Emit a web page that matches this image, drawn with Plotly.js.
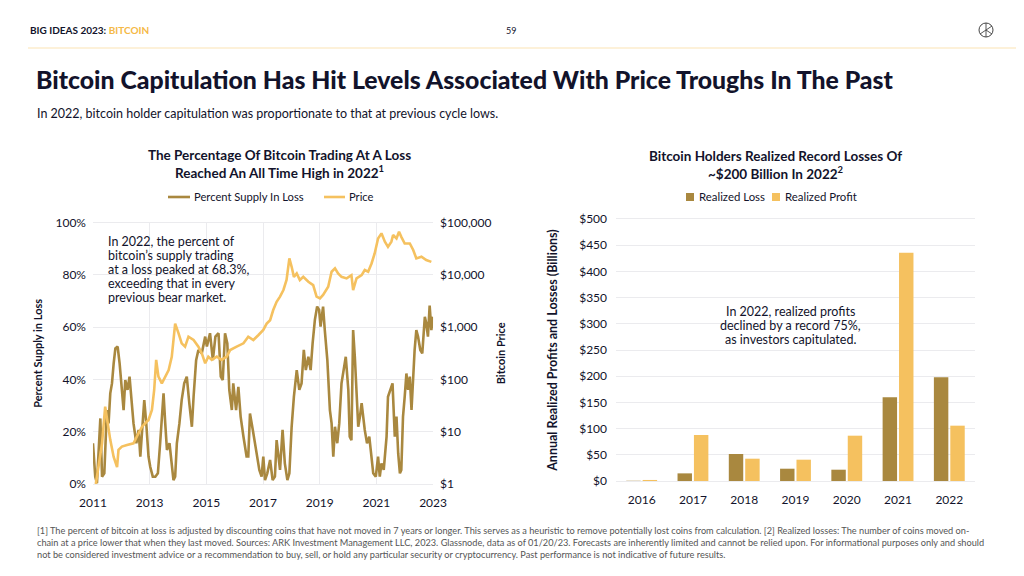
<!DOCTYPE html>
<html>
<head>
<meta charset="utf-8">
<script src="https://cdn.plot.ly/plotly-3.0.1.min.js"></script>
<style>
html,body{margin:0;padding:0;background:#fff;}
#chart{width:1024px;height:576px;}
</style>
</head>
<body>
<div id="chart"></div>
<script>
// ---------- Left chart: percent supply in loss (decimal year, %) ----------
const lossYears = [2011.00,2011.08,2011.14,2011.26,2011.32,2011.40,2011.49,2011.55,2011.61,2011.67,2011.73,2011.79,2011.87,2011.94,
2012.02,2012.08,2012.14,2012.22,2012.29,2012.37,2012.43,2012.53,2012.61,2012.67,2012.75,2012.81,2012.88,2012.96,
2013.02,2013.11,2013.20,2013.29,2013.37,2013.49,2013.55,2013.61,2013.70,2013.78,2013.84,2013.90,2013.96,
2014.05,2014.13,2014.22,2014.31,2014.40,2014.49,2014.55,2014.64,2014.72,2014.84,2014.96,
2015.02,2015.13,2015.23,2015.32,2015.43,2015.51,2015.58,2015.66,2015.74,2015.81,2015.90,2015.95,
2016.05,2016.13,2016.21,2016.31,2016.42,2016.48,2016.54,2016.64,2016.72,2016.80,2016.87,2016.95,
2017.01,2017.07,2017.15,2017.25,2017.34,2017.42,2017.48,2017.60,2017.69,2017.77,2017.86,2017.93,
2018.01,2018.09,2018.19,2018.28,2018.36,2018.44,2018.51,2018.60,2018.68,2018.75,2018.83,2018.91,2018.98,
2019.03,2019.12,2019.18,2019.27,2019.36,2019.42,2019.48,2019.54,2019.62,2019.69,2019.77,2019.85,2019.92,
2020.01,2020.06,2020.12,2020.18,2020.24,2020.30,2020.36,2020.42,2020.48,2020.59,2020.67,2020.75,2020.83,2020.89,2020.98,
2021.06,2021.12,2021.18,2021.26,2021.36,2021.41,2021.50,2021.57,2021.65,2021.71,2021.77,2021.83,2021.88,2021.94,
2022.00,2022.06,2022.12,2022.18,2022.24,2022.30,2022.35,2022.41,2022.47,2022.55,2022.62,2022.71,2022.76,2022.82,2022.88,2022.94,2023.00];
const lossPct = [15.6,2.8,0.3,25.1,2.8,4.1,28.3,23.2,34.7,38.5,46.2,51.9,52.6,46.2,
36.0,28.3,39.8,36.0,41.1,30.9,23.2,15.6,20.7,10.5,23.2,32.1,23.2,10.5,
6.6,2.8,2.8,4.1,15.6,34.7,23.2,13.0,15.6,7.9,1.5,2.8,15.6,
23.2,32.1,38.5,41.1,30.9,21.9,33.4,47.4,51.3,50.0,56.4,
52.6,57.7,47.4,56.4,57.7,41.1,39.8,57.7,53.8,36.0,28.3,38.5,
28.3,37.2,25.8,18.1,10.5,10.5,27.0,20.7,15.6,10.5,5.4,2.8,
10.5,1.5,4.1,9.2,1.5,2.8,16.8,5.4,20.7,7.9,1.5,4.1,
21.9,33.4,43.6,36.0,38.5,51.3,43.6,48.7,43.6,53.8,62.8,67.9,66.6,
60.2,67.9,58.9,47.4,28.3,23.2,10.5,21.9,15.6,23.2,38.5,43.6,48.7,
36.0,18.1,16.8,58.9,48.7,32.1,21.9,25.8,30.9,20.7,15.6,18.1,9.2,4.1,2.8,
10.5,2.8,7.9,5.4,18.1,33.4,36.0,38.5,18.1,25.8,11.7,4.1,5.4,25.8,
33.4,42.3,36.0,41.1,28.3,41.1,51.3,58.9,56.4,51.3,50.0,64.0,61.5,56.4,68.3,58.9,64.0];

// ---------- Left chart: bitcoin price (decimal year, USD) ----------
const priceYears = [2011.10,2011.32,2011.43,2011.52,2011.61,2011.73,2011.85,2011.90,
2012.02,2012.20,2012.43,2012.55,2012.73,2012.84,2012.96,
2013.08,2013.16,2013.23,2013.31,2013.43,2013.55,2013.67,2013.78,2013.90,
2014.02,2014.13,2014.25,2014.37,2014.55,2014.72,2014.84,2014.96,
2015.07,2015.19,2015.37,2015.54,2015.72,2015.84,
2016.07,2016.31,2016.48,2016.66,2016.84,
2017.01,2017.13,2017.25,2017.36,2017.48,2017.60,2017.72,2017.83,2017.93,
2018.01,2018.09,2018.19,2018.30,2018.42,2018.60,2018.77,2018.89,
2019.01,2019.12,2019.30,2019.42,2019.54,2019.65,2019.77,2019.95,
2020.12,2020.18,2020.30,2020.48,2020.59,2020.71,2020.83,2020.94,
2021.06,2021.18,2021.30,2021.41,2021.53,2021.59,2021.71,2021.80,2021.88,
2022.00,2022.18,2022.30,2022.41,2022.59,2022.76,2022.94];
const priceUsd = [1.0,6.0,30.2,14.5,7.0,3.3,2.1,4.5,
5.2,5.6,6.0,8.1,12.5,14.5,16.8,
26.1,63,237,113,84,113,152,272,1170,
763,492,425,660,570,425,317,204,
274,237,274,237,274,366,
425,492,660,570,710,
890,1170,1360,2130,3070,3850,5150,8000,20700,
14300,9200,10700,8000,9200,7400,6400,3850,
3560,4140,5950,11500,13400,10700,9200,8600,
9900,5150,8600,9900,12400,11500,16600,25800,
50000,62500,43400,34500,43400,58000,50000,67000,53600,
40000,40000,30000,20700,22300,19300,17800];

const lossTicks = [0,20,40,60,80,100];
const lossTickText = ["0%","20%","40%","60%","80%","100%"];
const priceTicks = [1,10,100,1000,10000,100000];
const priceTickText = ["$1","$10","$100","$1,000","$10,000","$100,000"];
const yearTicks = [2011,2013,2015,2017,2019,2021,2023];

// ---------- Right chart: realized profit / loss ($ billions) ----------
const barYears = ["2016","2017","2018","2019","2020","2021","2022"];
const realizedLoss = [0.5,14.6,51.5,23.5,21.6,159.7,197.8];
const realizedProfit = [2,87.8,42.6,40.7,86.5,435.8,105.6];
const barTicks = [0,50,100,150,200,250,300,350,400,450,500];
const barTickText = barTicks.map(v => "$" + v);

const seriesNames = ["Percent Supply In Loss", "Price", "Realized Loss", "Realized Profit"];
const noteLeft = ["In 2022, the percent of", "bitcoin’s supply trading", "at a loss peaked at 68.3%,", "exceeding that in every", "previous bear market."];
const noteRight = ["In 2022, realized profits", "declined by a record 75%,", "as investors capitulated."];

const DARK = "#a9883f";
const LIGHT = "#f5c15f";
const INK = "#12132b";
const GRID = "#ebebee";
const FONT = "Lato, 'Open Sans', sans-serif";

const traces = [
  {x: lossYears, y: lossPct, type: "scatter", mode: "lines", name: seriesNames[0],
   line: {color: DARK, width: 2.6}, xaxis: "x", yaxis: "y", showlegend: false},
  {x: priceYears, y: priceUsd, type: "scatter", mode: "lines", name: seriesNames[1],
   line: {color: LIGHT, width: 2.6}, xaxis: "x", yaxis: "y2", showlegend: false},
  {x: barYears, y: realizedLoss, type: "bar", name: seriesNames[2],
   marker: {color: DARK}, xaxis: "x2", yaxis: "y3", showlegend: false},
  {x: barYears, y: realizedProfit, type: "bar", name: seriesNames[3],
   marker: {color: LIGHT}, xaxis: "x2", yaxis: "y3", showlegend: false}
];

const tickFont = {family: FONT, size: 12, color: INK};
const axTitleFont = {family: FONT, size: 11, color: INK, weight: 700};
const px = v => v / 1024;
const py = v => 1 - v / 576;

function txt(x, y, text, size, opts) {
  return Object.assign({xref: "paper", yref: "paper", x: px(x), y: py(y), xanchor: "left", yanchor: "middle",
    showarrow: false, text: text, font: {family: FONT, size: size, color: INK}}, opts || {});
}

const annotations = [
  txt(28, 30, "<b>BIG IDEAS 2023: <span style='color:#f5b946'>BITCOIN</span></b>", 10),
  txt(511, 31, "59", 9, {xanchor: "center"}),
  txt(34, 80, "Bitcoin Capitulation Has Hit Levels Associated With Price Troughs In The Past", 24.8,
      {font: {family: FONT, size: 24.8, color: INK, weight: 900}}),
  txt(35, 114, "In 2022, bitcoin holder capitulation was proportionate to that at previous cycle lows.", 12.5),
  txt(279, 164, "<b>The Percentage Of Bitcoin Trading At A Loss<br>Reached An All Time High in 2022<sup>1</sup></b>", 13.5,
      {xanchor: "center", align: "center"}),
  txt(775, 165, "<b>Bitcoin Holders Realized Record Losses Of<br>~$200 Billion In 2022<sup>2</sup></b>", 13.5,
      {xanchor: "center", align: "center"}),
  // legends
  txt(192, 197, seriesNames[0], 11.2),
  txt(347, 197, seriesNames[1], 11.2),
  txt(697, 197, seriesNames[2], 11.4),
  txt(783, 197, seriesNames[3], 11.4),
  txt(35, 542, "[1] The percent of bitcoin at loss is adjusted by discounting coins that have not moved in 7 years or longer. This serves as a heuristic to remove potentially lost coins from calculation. [2] Realized losses: The number of coins moved on-<br>chain at a price lower that when they last moved. Sources: ARK Investment Management LLC, 2023. Glassnode, data as of 01/20/23. Forecasts are inherently limited and cannot be relied upon. For informational purposes only and should<br>not be considered investment advice or a recommendation to buy, sell, or hold any particular security or cryptocurrency. Past performance is not indicative of future results.",
      9.2, {align: "left", font: {family: FONT, size: 9.2, color: "#555"}})
];
noteLeft.forEach((line, i) => annotations.push(txt(106, 241 + i * 14.2, line, 12.5)));
noteRight.forEach((line, i) => annotations.push(txt(790, 311 + i * 14.2, line, 12.5, {xanchor: "center"})));

const layout = {
  width: 1024, height: 576,
  margin: {l: 0, r: 0, t: 0, b: 0},
  paper_bgcolor: "#fff", plot_bgcolor: "#fff",
  font: {family: FONT, color: INK},
  showlegend: false,
  barmode: "group", bargap: 0.36, bargroupgap: 0.12,
  xaxis: {domain: [0.0908, 0.4229], range: [2011, 2023], tickvals: yearTicks, ticktext: yearTicks.map(String),
    showgrid: true, gridcolor: GRID, zeroline: false, showline: true, linecolor: GRID, mirror: true,
    tickfont: tickFont, ticks: "", ticklabelstandoff: 8, anchor: "y"},
  yaxis: {domain: [0.1597, 0.6134], range: [0, 100], tickvals: lossTicks, ticktext: lossTickText,
    showgrid: true, gridcolor: GRID, zeroline: false, tickfont: tickFont, ticklabelstandoff: 6,
    title: {text: "Percent Supply in Loss", font: axTitleFont, standoff: 10}, anchor: "x"},
  yaxis2: {type: "log", range: [0, 5], tickvals: priceTicks, ticktext: priceTickText, overlaying: "y",
    side: "right", anchor: "x", showgrid: false, zeroline: false, tickfont: tickFont, ticklabelstandoff: 6,
    title: {text: "Bitcoin Price", font: axTitleFont, standoff: 6}},
  xaxis2: {domain: [0.6016, 0.9521], anchor: "y3", type: "category", tickvals: barYears, ticktext: barYears,
    showgrid: false, zeroline: false, showline: true, linecolor: GRID, mirror: true, tickfont: tickFont,
    ticks: "", ticklabelstandoff: 8},
  yaxis3: {domain: [0.1649, 0.6198], anchor: "x2", range: [0, 500], tickvals: barTicks, ticktext: barTickText,
    showgrid: true, gridcolor: GRID, zeroline: false, tickfont: tickFont, ticklabelstandoff: 8,
    title: {text: "Annual Realized Profits and Losses (Billions)", font: {family: FONT, size: 12.5, color: INK, weight: 700}, standoff: 18}},
  shapes: [
    {type: "line", xref: "paper", yref: "paper", x0: px(28), x1: px(1016), y0: py(48), y1: py(48),
     line: {color: "#fbe3b4", width: 1.2}},
    {type: "circle", xref: "paper", yref: "paper", x0: px(979), x1: px(993), y0: py(37), y1: py(23),
     line: {color: "#444", width: 1}},
    {type: "line", xref: "paper", yref: "paper", x0: px(986), x1: px(986), y0: py(37), y1: py(23),
     line: {color: "#444", width: 0.9}},
    {type: "line", xref: "paper", yref: "paper", x0: px(980), x1: px(992), y0: py(34), y1: py(26),
     line: {color: "#444", width: 0.9}},
    {type: "line", xref: "paper", yref: "paper", x0: px(986), x1: px(992), y0: py(30), y1: py(34),
     line: {color: "#444", width: 0.9}},
    // white panels behind the callout texts (hide gridlines, stay under data)
    {type: "rect", xref: "paper", yref: "paper", x0: px(102), x1: px(256), y0: py(307), y1: py(232),
     line: {width: 0}, fillcolor: "#fff", layer: "between"},
    {type: "rect", xref: "paper", yref: "paper", x0: px(708), x1: px(873), y0: py(348), y1: py(302),
     line: {width: 0}, fillcolor: "#fff", layer: "between"},
    // legend keys
    {type: "line", xref: "paper", yref: "paper", x0: px(168), x1: px(190), y0: py(197), y1: py(197),
     line: {color: DARK, width: 2.6}},
    {type: "line", xref: "paper", yref: "paper", x0: px(324), x1: px(345), y0: py(197), y1: py(197),
     line: {color: LIGHT, width: 2.6}},
    {type: "rect", xref: "paper", yref: "paper", x0: px(686), x1: px(694), y0: py(201), y1: py(193),
     line: {width: 0}, fillcolor: DARK},
    {type: "rect", xref: "paper", yref: "paper", x0: px(772), x1: px(780), y0: py(201), y1: py(193),
     line: {width: 0}, fillcolor: LIGHT}
  ],
  annotations: annotations
};

Plotly.newPlot("chart", traces, layout, {displayModeBar: false, staticPlot: true});
</script>
</body>
</html>
